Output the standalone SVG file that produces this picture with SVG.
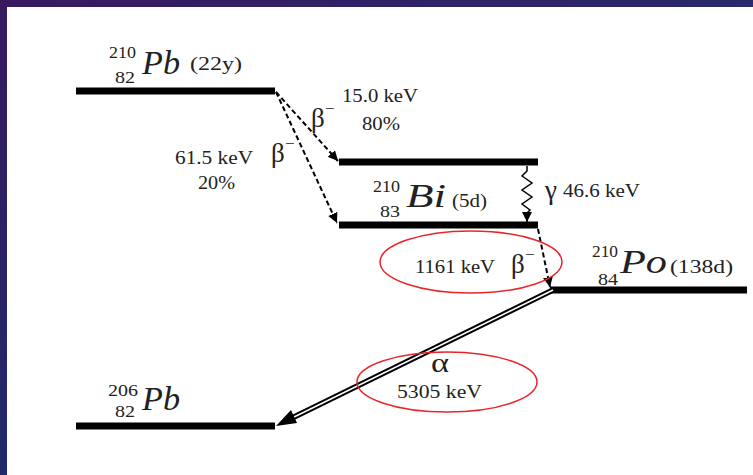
<svg xmlns="http://www.w3.org/2000/svg" width="753" height="475" viewBox="0 0 753 475">
<defs>
<linearGradient id="bg" x1="0" y1="0" x2="0.3" y2="1">
<stop offset="0" stop-color="#38185f"/>
<stop offset="1" stop-color="#1c2c6c"/>
</linearGradient>
<linearGradient id="bgt" x1="0" y1="0" x2="1" y2="0">
<stop offset="0" stop-color="#38185f"/>
<stop offset="1" stop-color="#2a2a6c"/>
</linearGradient>
<marker id="ahs" viewBox="0 0 10 10" refX="10" refY="5" markerWidth="10" markerHeight="10" markerUnits="userSpaceOnUse" orient="auto">
<path d="M0,0 L10,5 L0,10 Z" fill="#000"/>
</marker>
</defs>
<style>
text{font-family:"Liberation Serif",serif;fill:#222}
.s{font-size:19px}
.n{font-size:17px}
.p{font-size:19px}
.el{font-size:34px;font-style:italic}
.g{font-size:27px}
.m{font-size:17px}
.lvl{stroke:#000;stroke-width:7;fill:none}
.dash{stroke:#000;stroke-width:2;stroke-dasharray:5,3;fill:none}
.ring{fill:none;stroke:#e8262a;stroke-width:1.5}
</style>
<rect x="0" y="0" width="753" height="475" fill="url(#bg)"/>
<rect x="0" y="0" width="753" height="7" fill="url(#bgt)"/>
<rect x="7" y="7" width="746" height="468" fill="#fff"/>

<g id="pb210">
<line class="lvl" x1="76" y1="91" x2="275" y2="91"/>
<text class="n" x="109" y="58" textLength="27" lengthAdjust="spacingAndGlyphs">210</text>
<text class="n" x="115" y="83" textLength="20" lengthAdjust="spacingAndGlyphs">82</text>
<text class="el" x="142" y="74" textLength="38" lengthAdjust="spacingAndGlyphs">Pb</text>
<text class="p" x="190" y="70" textLength="52" lengthAdjust="spacingAndGlyphs">(22y)</text>
</g>

<g id="bi210">
<line class="lvl" x1="339" y1="162" x2="538" y2="162"/>
<line class="lvl" x1="339" y1="225" x2="538" y2="225"/>
<text class="n" x="373" y="192" textLength="27" lengthAdjust="spacingAndGlyphs">210</text>
<text class="n" x="380" y="217" textLength="20" lengthAdjust="spacingAndGlyphs">83</text>
<text class="el" x="406" y="207" textLength="40" lengthAdjust="spacingAndGlyphs">Bi</text>
<text class="p" x="452" y="207" textLength="35" lengthAdjust="spacingAndGlyphs">(5d)</text>
</g>

<g id="po210">
<line class="lvl" x1="550" y1="290" x2="747" y2="290"/>
<text class="n" x="592" y="257" textLength="26" lengthAdjust="spacingAndGlyphs">210</text>
<text class="n" x="598" y="285" textLength="20" lengthAdjust="spacingAndGlyphs">84</text>
<text class="el" x="620" y="273" textLength="47" lengthAdjust="spacingAndGlyphs">Po</text>
<text class="p" x="670" y="273" textLength="63" lengthAdjust="spacingAndGlyphs">(138d)</text>
</g>

<g id="pb206">
<line class="lvl" x1="76" y1="426" x2="275" y2="426"/>
<text class="n" x="108" y="396" textLength="30" lengthAdjust="spacingAndGlyphs">206</text>
<text class="n" x="115" y="417" textLength="20" lengthAdjust="spacingAndGlyphs">82</text>
<text class="el" x="142" y="410" textLength="38" lengthAdjust="spacingAndGlyphs">Pb</text>
</g>

<g id="connectors">
<line class="dash" x1="276" y1="92" x2="338" y2="161" marker-end="url(#ahs)"/>
<line class="dash" x1="276" y1="92" x2="337" y2="223" marker-end="url(#ahs)"/>
<path d="M527,166 L527,171 L522,176 L532,183 L522,190 L532,197 L522,204 L530,210 L527,213 L527,222" fill="none" stroke="#000" stroke-width="1.5" marker-end="url(#ahs)"/>
<line class="dash" x1="538" y1="229" x2="550" y2="287" marker-end="url(#ahs)"/>
<line x1="553" y1="290" x2="290" y2="419" stroke="#000" stroke-width="5.5"/>
<line x1="553" y1="290" x2="290" y2="419" stroke="#fff" stroke-width="1.6"/>
<path d="M276,426 L291,410 L297,423 Z" fill="#000"/>
</g>

<g id="labels">
<text class="g" x="311" y="127">β</text>
<text class="m" x="325" y="114">−</text>
<text class="s" x="342" y="102" textLength="76" lengthAdjust="spacingAndGlyphs">15.0 keV</text>
<text class="s" x="362" y="130" textLength="38" lengthAdjust="spacingAndGlyphs">80%</text>
<text class="s" x="175" y="164" textLength="78" lengthAdjust="spacingAndGlyphs">61.5 keV</text>
<text class="s" x="198" y="189" textLength="37" lengthAdjust="spacingAndGlyphs">20%</text>
<text class="g" x="271" y="162">β</text>
<text class="m" x="285" y="149">−</text>
<text class="g" x="545" y="199">γ</text>
<text class="s" x="563" y="197" textLength="77" lengthAdjust="spacingAndGlyphs">46.6 keV</text>
<text class="s" x="415" y="273" textLength="80" lengthAdjust="spacingAndGlyphs">1161 keV</text>
<text class="g" x="511" y="273">β</text>
<text class="m" x="525" y="260">−</text>
<text class="g" x="431" y="372" textLength="18" lengthAdjust="spacingAndGlyphs">α</text>
<text class="s" x="397" y="398" textLength="85" lengthAdjust="spacingAndGlyphs">5305 keV</text>
</g>

<g id="highlights">
<ellipse class="ring" cx="471" cy="262" rx="91" ry="31"/>
<ellipse class="ring" cx="447" cy="382" rx="90" ry="30"/>
</g>
</svg>
